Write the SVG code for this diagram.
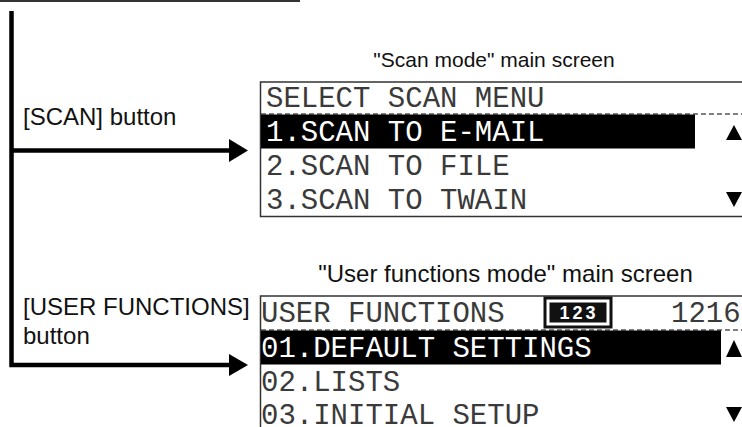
<svg xmlns="http://www.w3.org/2000/svg" width="742" height="427" viewBox="0 0 742 427">
<style>
.lbl{font-family:"Liberation Sans",Arial,sans-serif;font-size:24px;fill:#111}
.mono{font-family:"Liberation Mono","Courier New",monospace;font-size:29px;fill:#3a3a3a}
.inv{fill:#fff}
.frame{fill:#fff;stroke:#333;stroke-width:1.5}
.dash{stroke:#555;stroke-width:1.3;stroke-dasharray:5 3;fill:none}
.conn{stroke:#000;stroke-width:4.5;fill:none}
</style>
<rect width="742" height="427" fill="#fff"/>
<line x1="0" y1="1" x2="300" y2="1" stroke="#333" stroke-width="2"/>
<g id="connectors">
  <polyline class="conn" points="11.5,11 11.5,365 231,365"/>
  <line class="conn" x1="11.5" y1="150.5" x2="231" y2="150.5"/>
  <polygon points="229,139 248,150.5 229,162" fill="#000"/>
  <polygon points="229,354 248,365 229,376" fill="#000"/>
</g>
<g id="label-scan">
  <text class="lbl" x="23" y="125">[SCAN] button</text>
</g>
<g id="label-user">
  <text class="lbl" x="23" y="315">[USER FUNCTIONS]</text>
  <text class="lbl" x="23" y="344">button</text>
</g>
<g id="scan-screen">
  <text class="lbl" x="494" y="67" text-anchor="middle" style="font-size:21px">"Scan mode" main screen</text>
  <rect class="frame" x="260.5" y="82" width="500" height="134.5"/>
  <line class="dash" x1="261" y1="114" x2="742" y2="114"/>
  <rect x="261" y="114.5" width="434" height="34" fill="#000"/>
  <text class="mono" x="266" y="107">SELECT SCAN MENU</text>
  <text class="mono inv" x="266" y="141">1.SCAN TO E-MAIL</text>
  <text class="mono" x="266" y="175">2.SCAN TO FILE</text>
  <text class="mono" x="266" y="209">3.SCAN TO TWAIN</text>
  <polygon points="726,140 742,140 734,125" fill="#000"/>
  <polygon points="726,192 742,192 734,207" fill="#000"/>
</g>
<g id="user-screen">
  <text class="lbl" x="505.5" y="282" text-anchor="middle">"User functions mode" main screen</text>
  <rect class="frame" x="260.5" y="296" width="500" height="160"/>
  <line class="dash" x1="261" y1="330" x2="742" y2="330"/>
  <rect x="261" y="330.5" width="460" height="34" fill="#000"/>
  <text class="mono" x="261" y="322">USER FUNCTIONS</text>
  <text class="mono" x="671" y="322">1216</text>
  <rect x="545" y="298" width="66" height="29" fill="#fff" stroke="#111" stroke-width="3"/>
  <rect x="549.5" y="302.5" width="57" height="20" fill="#111"/>
  <text x="579" y="319" text-anchor="middle" font-family="Liberation Sans,Arial,sans-serif" font-weight="bold" font-size="18" fill="#fff" letter-spacing="3">123</text>
  <text class="mono inv" x="261" y="357">01.DEFAULT SETTINGS</text>
  <text class="mono" x="261" y="391">02.LISTS</text>
  <text class="mono" x="261" y="424">03.INITIAL SETUP</text>
  <polygon points="726,357 742,357 734,340" fill="#000"/>
  <polygon points="726,407 742,407 734,422" fill="#000"/>
</g>
</svg>
